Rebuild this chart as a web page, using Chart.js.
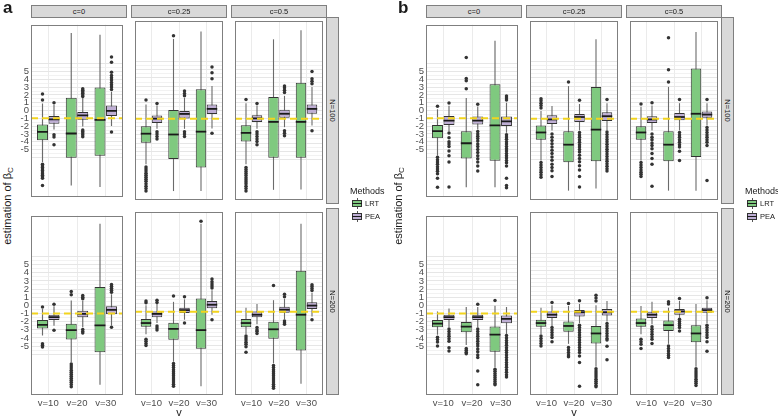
<!DOCTYPE html>
<html><head><meta charset="utf-8">
<script src="https://cdn.jsdelivr.net/npm/chart.js@4.4.1/dist/chart.umd.min.js"></script>
<style>
html,body{margin:0;padding:0;background:#fff;}
body{width:778px;height:418px;position:relative;overflow:hidden;font-family:"Liberation Sans",Arial,Helvetica,sans-serif;color:#1a1a1a;}
canvas{position:absolute;}
.strip{position:absolute;box-sizing:border-box;background:#d9d9d9;border:1px solid #7f7f7f;font-size:7.5px;color:#1a1a1a;display:flex;align-items:center;justify-content:center;white-space:nowrap;}
.rstrip span{display:block;transform:rotate(90deg);}
.letter{position:absolute;font-weight:bold;font-size:17px;line-height:1;}
.ytitle{position:absolute;font-size:11px;transform:translate(-50%,-50%) rotate(-90deg);white-space:nowrap;}
.ytitle sub{font-size:8px;vertical-align:-2px;}
.xtitle{position:absolute;font-size:11px;transform:translate(-50%,-50%);}
.ltitle{position:absolute;font-size:9px;white-space:nowrap;}
.llabel{position:absolute;font-size:7.5px;white-space:nowrap;line-height:1;}
.key{position:absolute;width:10px;height:11px;}
.key .kw{position:absolute;left:4.5px;top:0;width:1px;height:11px;background:#555;}
.key .kb{position:absolute;left:0;top:2px;width:10px;height:7px;box-sizing:border-box;border:1px solid #333;}
.key .km{position:absolute;left:0;top:5px;width:10px;height:1.3px;background:#1a1a1a;}
</style>
</head><body>
<script>
// ---------- labels ----------
const vLabels = ['v=10','v=20','v=30'];
const cLabels = ['c=0','c=0.25','c=0.5'];
const nLabels = ['N=100','N=200'];
const methods = ['LRT','PEA'];
const panelLetters = ['a','b'];
const yTickValues = [5,4,3,2,1,0,-1,-2,-3,-4,-5];
const yTickLabels = ['5','4','3','2','1','0','-1','-2','-3','-4','-5'];
const yGridValues = [-6,-5.5,-5,-4.5,-4,-3.5,-3,-2.5,-2,-1.5,-1,-0.5,0,0.5,1,1.5,2,2.5,3,3.5,4,4.5,5,5.5,6];
const refLine = [-1];

// ---------- data: [lowerWhisker, Q1, median, Q3, upperWhisker] per v ----------
// panel a, N=100
const a_N100_c0_LRT = [[-6.6,-3.8,-2.75,-1.8,0.9],[-9.6,-6.05,-2.95,1.65,9.95],[-9.8,-5.8,-1.2,2.95,9.7]];
const a_N100_c0_LRT_out = [[1.35,2.1,-6.9,-7.1,-7.3,-7.5,-7.7,-7.9,-8.1,-8.3,-8.5,-8.7,-9.6],[],[]];
const a_N100_c0_PEA = [[-2.45,-1.7,-1.15,-0.7,0.75],[-2.05,-1.17,-0.62,-0.19,1.6],[-2.0,-0.7,-0.04,0.65,2.4]];
const a_N100_c0_PEA_out = [[1.0,-3.1,-3.4,-4.4],[1.8,2.0,2.2,2.4,2.6,2.8,-2.5,-2.7,-2.9,-3.1,-3.35],[2.7,3.0,3.3,3.6,3.9,4.2,4.5,4.9,6.2,6.85,-2.75]];
const a_N100_c025_LRT = [[-6.6,-3.95,-2.85,-1.95,0.75],[-9.9,-5.95,-2.95,0.05,8.8],[-9.9,-7.0,-2.6,2.6,9.7]];
const a_N100_c025_LRT_out = [[1.3,-6.95,-7.2,-7.45,-7.7,-7.95,-8.2,-8.45,-8.7,-9.0,-9.3,-9.6,-9.9],[9.2],[]];
const a_N100_c025_PEA = [[-2.25,-1.55,-1.0,-0.62,0.6],[-2.25,-0.97,-0.42,0.0,1.55],[-2.2,-0.42,0.2,0.75,3.0]];
const a_N100_c025_PEA_out = [[0.87,-2.6,-2.9,-3.2,-3.5],[1.8,2.1,2.4,-2.6,-2.9,-3.2],[3.9,4.65,5.35,-2.8]];
const a_N100_c05_LRT = [[-6.6,-3.8,-2.75,-1.8,0.9],[-9.75,-5.8,-1.4,1.65,8.75],[-9.7,-5.8,-1.4,3.4,9.85]];
const a_N100_c05_LRT_out = [[1.35,-7.0,-7.25,-7.5,-7.75,-8.0,-8.25,-8.5,-8.75,-9.0,-9.3,-9.6,-9.9],[],[]];
const a_N100_c05_PEA = [[-2.25,-1.4,-0.97,-0.58,0.6],[-2.05,-0.9,-0.4,0.08,1.8],[-1.85,-0.4,0.2,0.75,2.9]];
const a_N100_c05_PEA_out = [[0.87,-2.6,-2.9,-3.2,-3.5,-3.8,-4.2],[2.2,2.5,2.8,3.0,-2.5,-2.8,-3.1],[3.3,3.6,3.9,4.8,-2.5]];
// panel a, N=200
const a_N200_c0_LRT = [[-3.7,-2.85,-2.4,-1.8,-0.45],[-7.0,-4.2,-3.05,-2.25,0.6],[-9.75,-5.75,-2.45,2.25,10.0]];
const a_N200_c0_LRT_out = [[-0.2,-4.7,-4.9,-5.1],[1.3,1.7,-7.2,-7.45,-7.7,-7.95,-8.2,-8.45,-8.7,-8.95,-9.2,-9.45,-9.7,-10.0],[]];
const a_N200_c0_PEA = [[-2.5,-1.8,-1.45,-1.15,-0.1],[-2.7,-1.45,-1.05,-0.65,0.55],[-2.5,-1.1,-0.55,-0.1,1.35]];
const a_N200_c0_PEA_out = [[0.13,-3.05],[0.8,1.0,1.2,-2.95,-3.2,-3.4],[1.6,1.85,2.1,2.35,2.55,-2.7]];
const a_N200_c025_LRT = [[-3.7,-2.8,-2.35,-1.85,-0.2],[-7.0,-4.35,-3.05,-2.3,0.2],[-9.95,-5.45,-3.2,0.6,9.6]];
const a_N200_c025_LRT_out = [[0.1,0.3,-4.3,-4.55,-4.8,-5.05],[0.9,-7.2,-7.45,-7.7,-7.95,-8.2,-8.45,-8.7,-8.95,-9.2,-9.45,-9.7,-9.95],[9.9]];
const a_N200_c025_PEA = [[-2.35,-1.65,-1.25,-0.95,0.0],[-1.95,-1.15,-0.8,-0.5,0.5],[-1.35,-0.57,-0.15,0.3,1.6]];
const a_N200_c025_PEA_out = [[0.13,0.4,-2.7,-2.95,-3.2],[0.8,-2.35],[1.85,2.1,2.35,2.6,2.95,-1.95]];
const a_N200_c05_LRT = [[-3.7,-2.85,-2.35,-1.85,-0.5],[-7.2,-4.25,-3.1,-2.2,0.4],[-9.65,-5.65,-1.35,3.95,9.6]];
const a_N200_c05_LRT_out = [[-3.9,-4.15,-4.4,-4.65,-4.9,-5.2,-5.85],[2.15,-7.45,-7.7,-7.95,-8.2,-8.45,-8.7,-8.95,-9.2,-9.45,-9.7,-9.95,-10.2],[]];
const a_N200_c05_PEA = [[-2.5,-1.65,-1.35,-0.95,0.0],[-1.95,-1.1,-0.75,-0.4,0.55],[-1.55,-0.65,-0.25,0.15,1.3]];
const a_N200_c05_PEA_out = [[-2.9,-3.15,-3.35,-3.6],[0.8,1.1,-2.1,-2.3,-2.5],[1.55,1.8,2.05,2.25,-1.95]];
// panel b, N=100
const b_N100_c0_LRT = [[-5.8,-3.55,-2.65,-1.85,0.15],[-9.85,-6.15,-4.2,-2.65,1.6],[-9.85,-6.45,-1.9,3.35,8.95]];
const b_N100_c0_LRT_out = [[0.55,-6.0,-6.3,-6.6,-6.9,-7.2,-7.5,-7.8,-8.1,-8.7,-9.85],[2.8,3.8,4.1,6.8],[]];
const b_N100_c0_PEA = [[-2.65,-1.85,-1.3,-0.7,0.6],[-2.45,-1.8,-1.3,-0.78,0.5],[-2.85,-2.0,-1.4,-0.78,1.0]];
const b_N100_c0_PEA_out = [[0.95,-2.9,-3.5,-4.0,-4.3,-4.6,-5.2,-5.8,-6.6,-9.8],[0.8,-2.7,-3.0,-3.3,-3.6,-3.9,-4.3,-4.6,-5.0,-5.4,-5.8,-6.2,-6.6,-7.1,-7.75],[1.35,1.6,1.85,-3.1,-3.4,-3.7,-4.0,-4.3,-4.6,-4.9,-5.2,-5.5,-5.8,-6.1,-6.4,-6.7,-7.1,-8.7,-9.6,-9.9]];
const b_N100_c025_LRT = [[-6.15,-3.6,-2.7,-1.85,0.0],[-9.85,-6.35,-4.2,-2.55,3.0],[-9.6,-6.25,-2.35,2.9,8.75]];
const b_N100_c025_LRT_out = [[0.3,0.6,0.9,1.2,1.45,-6.4,-6.7,-7.0,-7.3,-7.6,-7.9,-8.2],[3.5],[]];
const b_N100_c025_PEA = [[-2.45,-1.65,-1.1,-0.58,0.55],[-2.45,-1.4,-0.8,-0.42,0.8],[-2.45,-1.3,-0.7,-0.23,0.9]];
const b_N100_c025_PEA_out = [[-2.9,-3.3,-3.7,-4.1,-4.5,-4.9,-5.3,-5.7,-6.1,-6.6,-7.0,-7.4,-8.1],[1.25,-2.7,-3.0,-3.3,-3.6,-3.9,-4.2,-4.5,-4.8,-5.1,-5.5,-5.9,-6.3,-6.8,-7.3,-8.1,-9.4],[1.35,-2.65,-2.95,-3.25,-3.55,-3.85,-4.15,-4.45,-4.75,-5.05,-5.35,-5.65,-5.95,-6.25,-6.55,-6.85,-7.15,-7.45]];
const b_N100_c05_LRT = [[-6.15,-3.6,-2.7,-1.95,0.45],[-9.85,-6.25,-4.2,-2.55,2.9],[-9.85,-5.7,-0.4,5.15,9.65]];
const b_N100_c05_LRT_out = [[0.8,-6.4,-6.7,-7.0,-7.3,-7.6,-7.85,-8.1],[3.5,5.0,8.95],[]];
const b_N100_c05_PEA = [[-2.45,-1.55,-1.1,-0.7,0.6],[-2.45,-1.2,-0.8,-0.3,0.9],[-1.85,-0.9,-0.5,-0.12,0.9]];
const b_N100_c05_PEA_out = [[0.95,-2.9,-3.3,-3.6,-4.0,-4.3,-4.7,-5.3,-5.9,-6.6,-9.3],[1.35,-2.7,-3.0,-3.3,-3.6,-3.9,-4.2,-4.5,-5.0,-6.15],[1.35,-2.1,-2.4,-2.7,-3.0,-3.3,-3.6,-3.9,-4.3,-8.6]];
// panel b, N=200
const b_N200_c0_LRT = [[-3.6,-2.7,-2.25,-1.8,-0.75],[-4.85,-3.3,-2.6,-2.05,-0.2],[-7.6,-5.7,-3.6,-2.6,0.0]];
const b_N200_c0_LRT_out = [[-3.9,-4.2,-4.5,-5.0],[-5.3,-5.5,-5.75,-5.95],[0.6,-7.85,-8.1,-8.35,-8.6,-8.85,-9.1,-9.35,-9.6,-9.75]];
const b_N200_c0_PEA = [[-2.7,-1.8,-1.45,-1.15,-0.4],[-2.7,-1.8,-1.45,-1.15,-0.2],[-3.5,-2.2,-1.65,-1.25,-0.2]];
const b_N200_c0_PEA_out = [[-2.9,-3.2,-3.5,-3.8,-4.1,-4.4,-5.2,-5.6],[0.13,-2.9,-3.2,-3.5,-3.8,-4.1,-4.4,-4.7,-5.0,-5.35,-5.7,-6.1,-6.4,-8.05,-9.75],[-3.7,-4.0,-4.3,-4.6,-4.9,-5.2,-5.5,-5.8,-6.1,-6.4,-6.7,-7.0,-7.3,-7.6,-7.9,-8.2,-8.5,-8.8]];
const b_N200_c025_LRT = [[-3.7,-2.8,-2.35,-1.95,-0.5],[-4.85,-3.4,-2.7,-2.15,-0.3],[-7.6,-4.8,-3.6,-2.7,-0.2]];
const b_N200_c025_LRT_out = [[-3.9,-4.2,-4.5,-4.8,-5.1],[0.0,-5.3,-5.6,-5.9,-6.2,-6.4],[0.3,0.65,1.0,-7.85,-8.1,-8.35,-8.6,-8.85,-9.1,-9.35,-9.6,-9.85,-10.0]];
const b_N200_c025_PEA = [[-2.7,-1.75,-1.35,-0.95,-0.2],[-2.35,-1.55,-1.05,-0.78,0.0],[-2.15,-1.45,-1.05,-0.65,0.3]];
const b_N200_c025_PEA_out = [[0.13,-2.9,-3.2,-3.5,-3.8,-4.1,-4.6],[0.33,-2.6,-2.9,-3.2,-3.5,-3.8,-4.1,-4.4,-4.7,-5.0,-5.3,-5.6,-5.9,-6.3,-7.1,-9.95],[-2.4,-2.7,-3.0,-3.3,-3.6,-3.9,-4.2,-4.4,-5.15,-6.75]];
const b_N200_c05_LRT = [[-3.7,-2.8,-2.35,-1.8,-0.3],[-4.85,-3.3,-2.6,-2.05,-0.5],[-7.6,-4.65,-3.6,-2.6,0.0]];
const b_N200_c05_LRT_out = [[-4.3,-4.6,-4.9,-5.4],[0.2,-0.05,-5.1,-5.4,-5.7,-6.0,-6.25,-6.5],[-7.85,-8.1,-8.35,-8.6,-8.85,-9.1,-9.35,-9.6,-9.85]];
const b_N200_c05_PEA = [[-2.5,-1.75,-1.35,-1.05,0.2],[-1.75,-1.35,-0.95,-0.65,0.3],[-2.35,-1.1,-0.8,-0.5,0.4]];
const b_N200_c05_PEA_out = [[-2.8,-3.1,-3.4,-3.7,-4.0,-4.3,-4.8],[0.6,-1.9,-2.15,-2.4,-2.65,-2.9,-3.3],[0.7,-2.6,-2.9,-3.2,-3.5,-3.8,-4.1,-4.6,-5.75]];

// table built from the named arrays: panel -> row (N) -> col (c) -> [LRT, LRT_out, PEA, PEA_out]
const facetTable = {
  a: [
    [[a_N100_c0_LRT,a_N100_c0_LRT_out,a_N100_c0_PEA,a_N100_c0_PEA_out],[a_N100_c025_LRT,a_N100_c025_LRT_out,a_N100_c025_PEA,a_N100_c025_PEA_out],[a_N100_c05_LRT,a_N100_c05_LRT_out,a_N100_c05_PEA,a_N100_c05_PEA_out]],
    [[a_N200_c0_LRT,a_N200_c0_LRT_out,a_N200_c0_PEA,a_N200_c0_PEA_out],[a_N200_c025_LRT,a_N200_c025_LRT_out,a_N200_c025_PEA,a_N200_c025_PEA_out],[a_N200_c05_LRT,a_N200_c05_LRT_out,a_N200_c05_PEA,a_N200_c05_PEA_out]]
  ],
  b: [
    [[b_N100_c0_LRT,b_N100_c0_LRT_out,b_N100_c0_PEA,b_N100_c0_PEA_out],[b_N100_c025_LRT,b_N100_c025_LRT_out,b_N100_c025_PEA,b_N100_c025_PEA_out],[b_N100_c05_LRT,b_N100_c05_LRT_out,b_N100_c05_PEA,b_N100_c05_PEA_out]],
    [[b_N200_c0_LRT,b_N200_c0_LRT_out,b_N200_c0_PEA,b_N200_c0_PEA_out],[b_N200_c025_LRT,b_N200_c025_LRT_out,b_N200_c025_PEA,b_N200_c025_PEA_out],[b_N200_c05_LRT,b_N200_c05_LRT_out,b_N200_c05_PEA,b_N200_c05_PEA_out]]
  ]
};

// ---------- styles / layout ----------
const methodColors = ['#7FC97F','#BEAED4'];
const dodge = [-0.2, 0.2];
const geom = {
  a: {lefts:[31,131,231], yTitleX:8, legendX:350},
  b: {lefts:[426,526,626], yTitleX:399, legendX:745}
};
const rowTops = [17,208], panelW = 96, panelH = 187, stripTop = 5, stripH = 13, stripW = 13;
const yLabW = 16, xLabH = 14;

Chart.defaults.font.family = '"Liberation Sans", Arial, Helvetica, sans-serif';

const boxPlugin = {
  id: 'boxExtras',
  afterDatasetsDraw(chart) {
    const ctx = chart.ctx, ys = chart.scales.y, area = chart.chartArea;
    ctx.save();
    ctx.beginPath(); ctx.rect(area.left, area.top, area.right-area.left, area.bottom-area.top); ctx.clip();
    chart.data.datasets.forEach((ds, di) => {
      if (!ds.medians) return;
      const meta = chart.getDatasetMeta(di);
      meta.data.forEach((bar, j) => {
        const y = ys.getPixelForValue(ds.medians[j]);
        ctx.strokeStyle = '#1a1a1a'; ctx.lineWidth = 1.8;
        ctx.beginPath(); ctx.moveTo(bar.x - bar.width/2, y); ctx.lineTo(bar.x + bar.width/2, y); ctx.stroke();
      });
    });
    refLine.forEach(v => {
      const y = ys.getPixelForValue(v);
      ctx.strokeStyle = '#F2D41E'; ctx.lineWidth = 2; ctx.setLineDash([7,4]);
      ctx.beginPath(); ctx.moveTo(area.left, y); ctx.lineTo(area.right, y); ctx.stroke();
    });
    ctx.restore();
  },
  afterDraw(chart) {
    const ctx = chart.ctx, a = chart.chartArea;
    ctx.save(); ctx.strokeStyle = '#7f7f7f'; ctx.lineWidth = 1;
    ctx.strokeRect(Math.round(a.left)+0.5, Math.round(a.top)+0.5, Math.round(a.right-a.left)-1, Math.round(a.bottom-a.top)-1);
    ctx.restore();
  }
};

function makeFacet(p, r, c) {
  const [lrt, lrtOut, pea, peaOut] = facetTable[p][r][c];
  const stats = [lrt, pea], outs = [lrtOut, peaOut];
  const datasets = [];
  stats.forEach((s, m) => datasets.push({
    type:'bar', label:methods[m], stack:methods[m],
    data: s.map((q, i) => ({x:i+1, y:[q[1], q[3]]})),
    medians: s.map(q => q[2]),
    backgroundColor: methodColors[m], borderColor:'#333333', borderWidth:1, borderSkipped:false,
    categoryPercentage:0.8, barPercentage:0.95
  }));
  stats.forEach((s, m) => datasets.push({
    type:'bar', label:methods[m]+' whisker', stack:methods[m],
    data: s.map((q, i) => ({x:i+1, y:[q[0], q[4]]})),
    backgroundColor:'#6b6b6b', borderWidth:0,
    categoryPercentage:0.8, barPercentage:0.1
  }));
  outs.forEach((o, m) => datasets.push({
    type:'scatter', label:methods[m]+' outliers',
    data: o.flatMap((arr, i) => arr.map(v => ({x:i+1+dodge[m], y:v}))),
    pointRadius:1.75, pointBackgroundColor:'#333333', pointBorderWidth:0, showLine:false
  }));

  const extraL = c === 0 ? yLabW : 0, extraB = r === 1 ? xLabH : 0;
  const cv = document.createElement('canvas');
  cv.width = panelW + extraL; cv.height = panelH + extraB;
  cv.style.left = (geom[p].lefts[c] - extraL) + 'px';
  cv.style.top = rowTops[r] + 'px';
  cv.style.width = cv.width + 'px'; cv.style.height = cv.height + 'px';
  document.body.appendChild(cv);

  new Chart(cv.getContext('2d'), {
    type:'bar',
    data:{datasets},
    options:{
      responsive:false, animation:false, devicePixelRatio:1, events:[],
      layout:{padding:0},
      plugins:{legend:{display:false}, tooltip:{enabled:false}, title:{display:false}},
      scales:{
        x:{
          type:'linear', min:0.4, max:3.6, offset:false,
          grid:{offset:false, color:'#ebebeb', lineWidth:1, drawTicks:false},
          border:{display:false},
          afterBuildTicks: s => { s.ticks = vLabels.map((l, i) => ({value:i+1})); },
          afterFit: s => { s.height = extraB; },
          ticks:{display: r === 1, autoSkip:false, maxRotation:0, minRotation:0, padding:3, color:'#4d4d4d', font:{size:9.5},
                 callback: v => vLabels[Math.round(v)-1] || ''}
        },
        y:{
          type:'linear', min:-11, max:11, stacked:false,
          grid:{color: ctx => Number.isInteger(ctx.tick.value) ? '#e6e6e6' : '#efefef',
                lineWidth: ctx => Number.isInteger(ctx.tick.value) ? 1 : 0.8, drawTicks:false},
          border:{display:false},
          afterBuildTicks: s => { s.ticks = yGridValues.map(v => ({value:v})); },
          afterFit: s => { s.width = extraL; },
          ticks:{display: c === 0, autoSkip:false, padding:2, color:'#4d4d4d', font:{size:9.5},
                 callback: v => { const k = yTickValues.indexOf(v); return k < 0 ? '' : yTickLabels[k]; }}
        }
      }
    },
    plugins:[boxPlugin]
  });
}

function addDiv(cls, html, style) {
  const d = document.createElement('div');
  d.className = cls; d.innerHTML = html;
  Object.assign(d.style, style);
  document.body.appendChild(d);
  return d;
}

['a','b'].forEach((p, pi) => {
  const g = geom[p];
  for (let r = 0; r < 2; r++) for (let c = 0; c < 3; c++) makeFacet(p, r, c);
  cLabels.forEach((lab, c) => addDiv('strip', lab, {left:g.lefts[c]+'px', top:stripTop+'px', width:panelW+'px', height:stripH+'px'}));
  nLabels.forEach((lab, r) => addDiv('strip rstrip', '<span>'+lab+'</span>', {left:(g.lefts[2]+panelW-1)+'px', top:rowTops[r]+'px', width:stripW+'px', height:panelH+'px'}));
  addDiv('letter', panelLetters[pi], {left:(g.lefts[0]-28)+'px', top:'-1px'});
  addDiv('ytitle', 'estimation of β<sub>C</sub>', {left:g.yTitleX+'px', top:'206px'});
  addDiv('xtitle', 'v', {left:((g.lefts[0]+g.lefts[2]+panelW)/2)+'px', top:'412px'});
  addDiv('ltitle', 'Methods', {left:g.legendX+'px', top:'186px'});
  methods.forEach((m, k) => {
    const top = 198 + k*13;
    addDiv('key', '<div class="kw"></div><div class="kb" style="background:'+methodColors[k]+'"></div><div class="km"></div>', {left:(g.legendX+2)+'px', top:top+'px'});
    addDiv('llabel', m, {left:(g.legendX+15)+'px', top:(top+2)+'px'});
  });
});
</script>
</body></html>
